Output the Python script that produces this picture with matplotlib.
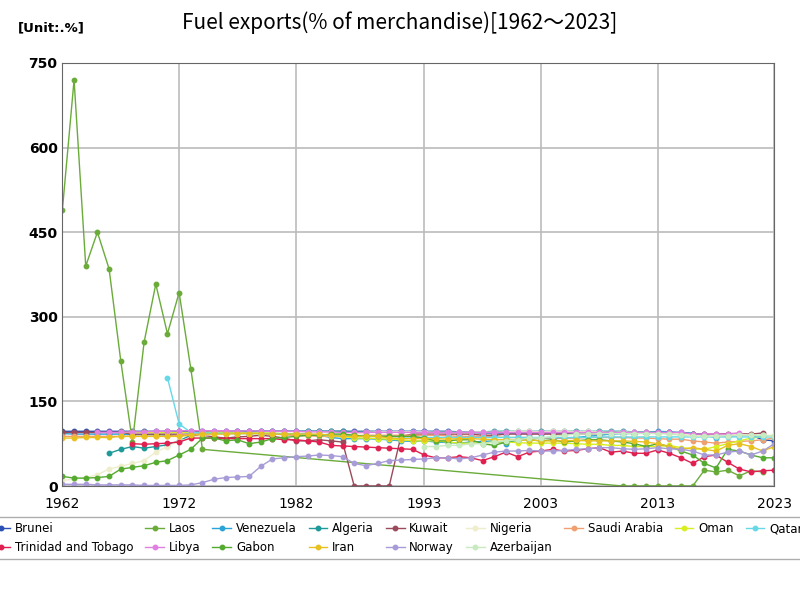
import numpy as np
import matplotlib.pyplot as plt

def series(start, vals):
    return list(range(start, start + len(vals))), vals

brunei = series(1962, [97]*30 + [97,97,97,97,96,95,94,94,94,94,94,94,94,94,94,95,95,96,95,95,95,95,95,94,93,90,88,88,90,90,82,80,80,78])
laos_y = list(range(1962, 1975)) + list(range(2010, 2023))
laos_v = [490,720,390,450,385,222,78,255,358,270,343,208,65] + [0,0,0,0,0,0,0,28,25,28,18,27,25]
venezuela = series(1962, [93,92,92,92,92,92,91,91,91,90,90,93,94,94,94,94,94,93,93,93,92,92,90,86,84,84,84,83,82,80,79,80,78,77,76,78,79,80,75,82,85,85,84,85,86,88,90,92,93,93,94,97,96,95,93,92,85])
algeria = series(1966, [58,65,70,67,70,73,80,90,93,95,96,97,97,97,97,97,97,97,97,97,97,96,96,96,96,96,96,96,96,96,95,95,96,97,97,97,97,97,97,97,97,97,97,97,97,96,96,95,95,94,93])
kuwait = series(1962, [95,95,95,95,95,95,92,92,92,92,92,91,90,87,85,87,88,90,88,85,80,80,82,80,78,0,0,0,0,88,92,92,92,92,92,92,90,90,92,92,92,92,92,92,92,92,93,94,94,94,94,94,94,94,92,92,92,93,93,92,94])
nigeria = series(1962, [10,12,15,20,30,35,40,45,60,70,80,85,90,92,93,93,92,92,96,96,96,96,96,95,92,92,95,96,96,96,96,96,95,95,95,95,96,95,96,97,97,96,97,97,96,97,96,95,96,95,95,94,94,93,90,88,90,91,92,90,90,90])
saudi = series(1962, [88]*10 + [90,92,95,96,96,95,94,93,92,91,89,89,88,88,88,89,90,90,90,90,90,90,90,89,88,88,88,87,86,86,86,85,85,85,85,86,86,86,86,85,85,84,83,83,80,78,76,78,79,80,82,85])
oman = series(1967, [95,95,95,95,95,95,95,95,95,94,94,94,94,94,92,92,91,90,89,88,85,85,84,83,82,80,80,80,78,76,76,76,78,78,77,76,76,76,76,75,74,74,72,72,70,70,70,72,68,66,65,70,75,80,85,88])
qatar = series(1971, [192,110,95,94,94,93,93,93,93,93,92,92,91,90,90,90,89,89,88,88,87,87,86,86,86,86,86,86,86,86,86,86,86,86,86,86,86,87,87,87,87,87,87,87,87,87,87,87,87,87,87,87,87])
tt = series(1968, [75,74,75,76,78,85,85,85,84,84,84,84,84,82,82,80,78,72,71,70,69,68,67,66,65,55,50,50,52,50,45,52,60,52,60,62,65,62,63,66,68,60,62,58,58,64,58,50,40,52,55,42,30,25,27,28])
libya = series(1965, [95,95,95,96,96,97,97,98,98,98,98,98,97,98,97,97,97,97,96,96,96,95,95,95,95,95,95,95,95,95,95,95,95,95,95,95,95,95,95,95,95,95,95,95,95,95,95,95,95,95,95,92,92,92,92,94])
gabon = series(1962, [17,14,14,15,17,30,33,36,42,45,55,65,85,85,80,82,75,78,84,86,88,90,90,92,92,90,88,88,88,88,88,85,80,80,82,82,75,72,78,82,82,80,82,78,80,82,82,80,78,75,70,75,70,62,55,40,32,65,62,55,50,50])
norway = series(1962, [3,3,3,2,2,2,2,1,1,1,1,2,6,12,15,16,17,35,48,50,52,53,55,54,52,40,36,40,45,46,47,48,50,50,48,50,55,60,62,62,63,62,62,63,65,66,68,68,66,65,66,68,66,65,62,55,55,60,62,55,62,75])
iran = series(1962, [85,85,86,86,86,88,88,88,88,88,88,90,92,92,92,93,93,93,92,92,92,92,92,90,88,88,88,88,85,84,84,84,84,83,84,84,83,82,82,81,82,80,80,80,81,80,80,80,80,79,78,75,70,65,68,65,62,72,75,70,62,70])
azer = series(1993, [70,70,72,72,75,75,78,80,82,85,85,88,90,92,92,93,93,93,93,93,93,92,90,88,88,88,89,90,90,90,88])

names = ["Brunei","Laos","Venezuela","Algeria","Kuwait","Nigeria","Saudi Arabia","Oman","Qatar",
         "Trinidad and Tobago","Libya","Gabon","Iran","Norway","Azerbaijan"]
colors = ["#2a4fb5","#6aab3a","#2aa3d8","#1e9a9a","#9a4a5a","#eeeecc","#f0a070","#d8ee20","#66d8e8",
          "#e02050","#e080e0","#55aa30","#e8c020","#a89cd8","#c8eac0"]
data = [brunei,(laos_y,laos_v),venezuela,algeria,kuwait,nigeria,saudi,oman,qatar,tt,libya,gabon,iran,norway,azer]

fig = plt.figure(figsize=(8,6), dpi=100)
ax = fig.add_axes([0.078, 0.19, 0.89, 0.705])
handles = []
for n, c, (x, v) in zip(names, colors, data):
    h, = ax.plot(x, v, '-o', color=c, lw=1.0, ms=3.2, label=n)
    handles.append(h)
ax.set_xlim(1962, 2023)
ax.set_ylim(0, 750)
ax.set_xticks([1962,1972,1982,1993,2003,2013,2023])
ax.set_yticks(range(0, 751, 150))
ax.grid(color="#bbbbbb", lw=1.2)
ax.tick_params(length=0, labelsize=10)
ax.tick_params(axis='x', pad=8)
for s in ax.spines.values():
    s.set_color("#666666")
for lab in ax.get_yticklabels():
    lab.set_fontweight("bold")
fig.text(0.5, 0.952, "Fuel exports(% of merchandise)[1962～2023]", ha="center", fontsize=15, fontfamily="Noto Sans CJK JP")
fig.text(0.022, 0.948, "[Unit:.%]", fontsize=9.5, fontweight="bold")
order = [0,9,1,10,2,11,3,12,4,13,5,14,6,7,8]
ax.legend([handles[i] for i in order], [names[i] for i in order], loc="upper center",
          bbox_to_anchor=(0.47, -0.06), ncol=9, fontsize=8.5, frameon=True,
          edgecolor="#999999", handlelength=1.6, columnspacing=1.0, handletextpad=0.4)
fig.savefig("out.png")
